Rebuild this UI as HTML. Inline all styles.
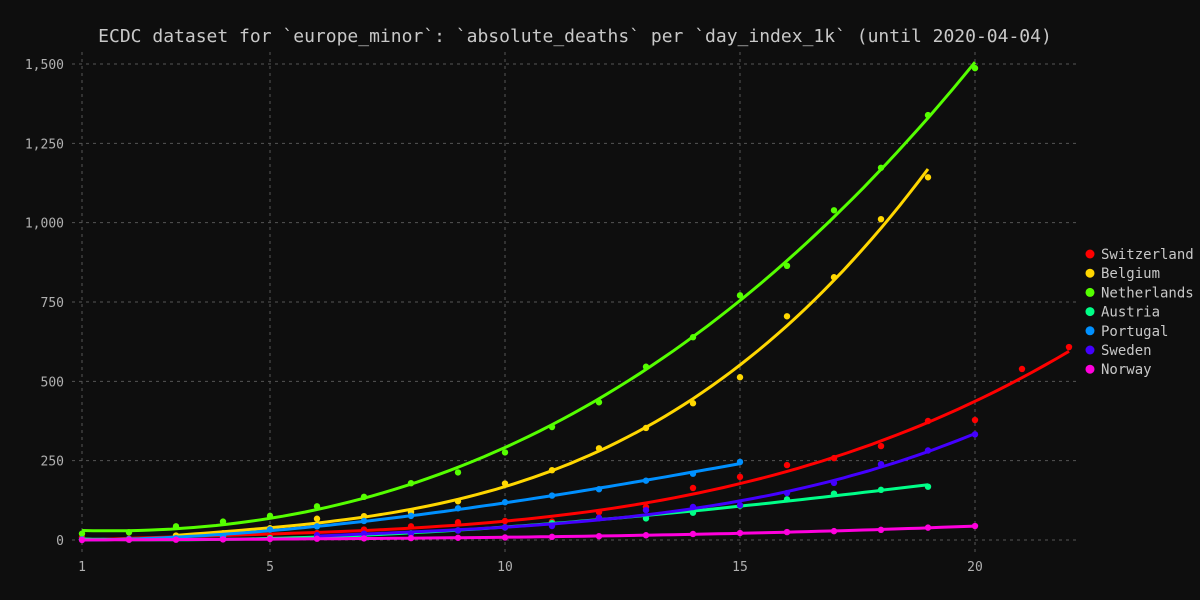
<!DOCTYPE html>
<html><head><meta charset="utf-8"><style>
html,body{margin:0;padding:0;background:#0e0e0e;}
svg{display:block;}
text{font-family:"DejaVu Sans Mono","Liberation Mono",monospace;}
</style></head><body>
<svg id="chart" width="1200" height="600">
<rect width="1200" height="600" fill="#0e0e0e"/>
<text x="575" y="42" text-anchor="middle" fill="#c8c8c8" font-size="18">ECDC dataset for `europe_minor`: `absolute_deaths` per `day_index_1k` (until 2020-04-04)</text>
<g id="grid"></g><g id="series"></g><g id="legend"></g>
</svg>
<script>
const xTicks=[1,5,10,15,20];
const yTicks=[0,250,500,750,1000,1250,1500];
const yTickLabels=["0","250","500","750","1,000","1,250","1,500"];
const names=["Switzerland","Belgium","Netherlands","Austria","Portugal","Sweden","Norway"];
const colors=["#ff0000","#ffd700","#55ff00","#00ff88","#0090ff","#4400ff","#ff00dd"];
const swissX=[1,2,3,4,5,6,7,8,9,10,11,12,13,14,15,16,17,18,19,20,21,22];
const swissY=[8,4,5,8,14,22,33,43,56,60,58,88,104,164,199,236,258,296,375,378,539,608];
const belgX=[3,4,5,6,7,8,9,10,11,12,13,14,15,16,17,18,19];
const belgY=[14,21,37,67,75,88,122,178,220,289,353,431,513,705,828,1011,1143];
const nethX=[1,2,3,4,5,6,7,8,9,10,11,12,13,14,15,16,17,18,19,20];
const nethY=[20,24,43,58,76,106,136,179,213,276,356,434,546,639,771,864,1039,1173,1339,1487];
const austX=[1,2,3,4,5,6,7,8,9,10,11,12,13,14,15,16,17,18,19];
const austY=[1,1,3,3,6,10,16,21,30,40,53,69,68,86,108,128,146,158,168];
const portX=[1,2,3,4,5,6,7,8,9,10,11,12,13,14,15];
const portY=[2,3,6,12,33,43,60,76,100,119,140,160,187,209,246];
const swedX=[6,7,8,9,10,11,12,13,14,15,16,17,18,19,20];
const swedY=[15,20,20,30,40,44,70,94,104,110,148,180,239,282,333];
const norwX=[1,2,3,4,5,6,7,8,9,10,11,12,13,14,15,16,17,18,19,20];
const norwY=[0,1,1,2,3,4,5,6,7,8,10,12,15,19,22,25,28,32,39,44];
const seriesX=[swissX,belgX,nethX,austX,portX,swedX,norwX];
const seriesY=[swissY,belgY,nethY,austY,portY,swedY,norwY];

const NS="http://www.w3.org/2000/svg";
const X=v=>82+(v-1)*47;
const Y=v=>540-v*476/1500;
function mk(tag,attrs,parent){const e=document.createElementNS(NS,tag);for(const k in attrs)e.setAttribute(k,attrs[k]);parent.appendChild(e);return e;}
const grid=document.getElementById('grid');
xTicks.forEach((t,i)=>{
  const l=mk('line',{x1:X(t),x2:X(t),y1:52,y2:552,stroke:'#555','stroke-dasharray':'3,4','stroke-width':1},grid);
  
  
  const tx=mk('text',{x:X(t),y:571,'text-anchor':'middle',fill:'#b0b0b0','font-size':13},grid);
  tx.textContent=t;
  
  
});
yTicks.forEach((t,i)=>{
  const l=mk('line',{x1:72,x2:1078,y1:Y(t),y2:Y(t),stroke:'#555','stroke-dasharray':'3,4','stroke-width':1},grid);
  
  
  const tx=mk('text',{x:64,y:Y(t)+5,'text-anchor':'end',fill:'#b0b0b0','font-size':13},grid);
  tx.textContent=yTickLabels[i];
  
  
});
function fit(xs,ys,deg){
  const n=deg+1;const A=[];for(let i=0;i<n;i++){A.push(new Array(n+1).fill(0));}
  xs.forEach((x,k)=>{for(let i=0;i<n;i++){for(let j=0;j<n;j++)A[i][j]+=Math.pow(x,i+j);A[i][n]+=ys[k]*Math.pow(x,i);}});
  for(let i=0;i<n;i++){let p=i;for(let r=i+1;r<n;r++)if(Math.abs(A[r][i])>Math.abs(A[p][i]))p=r;[A[i],A[p]]=[A[p],A[i]];
    for(let r=0;r<n;r++){if(r===i)continue;const f=A[r][i]/A[i][i];for(let c=i;c<=n;c++)A[r][c]-=f*A[i][c];}}
  return A.map((r,i)=>r[n]/r[i]);
}
const sg=document.getElementById('series');
seriesX.forEach((xs,s)=>{
  const ys=seriesY[s];const c=fit(xs,ys,3);
  const x0=xs[0],x1=xs[xs.length-1];let d='';
  for(let k=0;k<=80;k++){const x=x0+(x1-x0)*k/80;let y=0;c.forEach((ci,i)=>y+=ci*Math.pow(x,i));d+=(k?'L':'M')+X(x).toFixed(1)+','+Y(Math.max(y,0)).toFixed(1);}
  const p=mk('path',{d:d,fill:'none',stroke:colors[s],'stroke-width':3},sg);
  
  
  xs.forEach((x,k)=>{
    const pt=mk('circle',{cx:X(x),cy:Y(ys[k]),r:3.2,fill:colors[s]},sg);
    
    
  });
});
const lg=document.getElementById('legend');
names.forEach((n,i)=>{
  const y=254+i*19.2;
  const c=mk('circle',{cx:1090,cy:y,r:4.5,fill:colors[i]},lg);
  
  
  const t=mk('text',{x:1101,y:y+5,fill:'#c8c8c8','font-size':14},lg);
  t.textContent=n;
  
  
});
</script>
</body></html>
